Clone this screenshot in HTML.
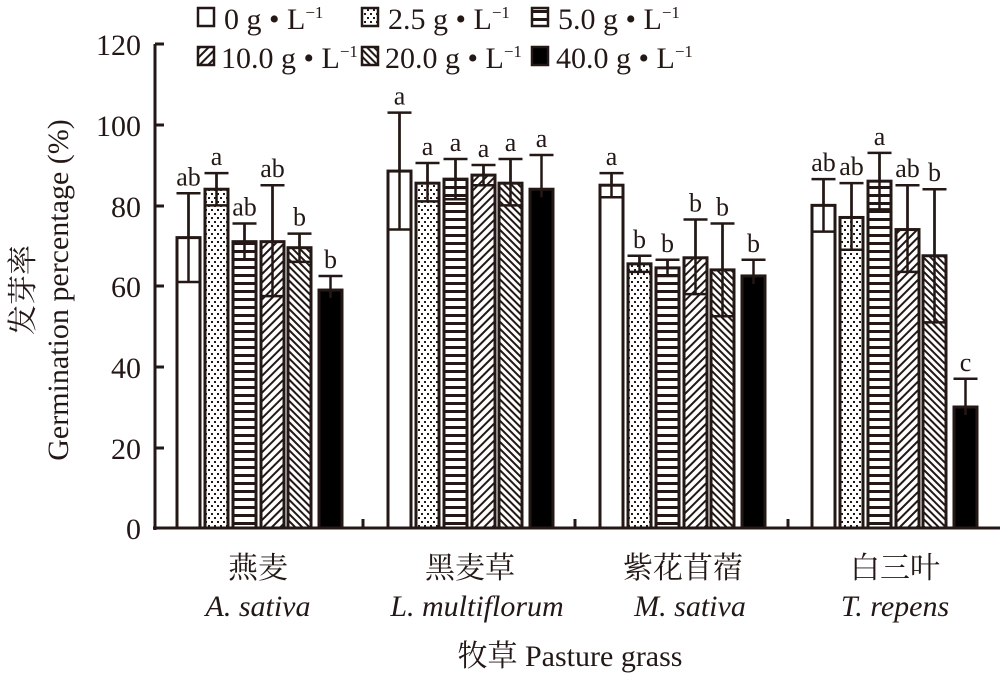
<!DOCTYPE html>
<html><head><meta charset="utf-8"><style>
body{margin:0;background:#fff}
svg{display:block;font-family:"Liberation Serif","Noto Serif CJK SC",serif}
</style></head><body>
<svg width="1000" height="673" viewBox="0 0 1000 673" xmlns="http://www.w3.org/2000/svg">
<defs>
<pattern id="dots" width="6" height="8" patternUnits="userSpaceOnUse"><rect width="6" height="8" fill="#fff"/><rect x="1" y="1" width="2" height="2" fill="#231815"/><rect x="4" y="5" width="2" height="2" fill="#231815"/></pattern>
<pattern id="hor" width="8" height="8" patternUnits="userSpaceOnUse"><rect width="8" height="8" fill="#fff"/><rect y="2" width="8" height="3" fill="#231815"/></pattern>
<pattern id="fwd" width="6" height="6" patternUnits="userSpaceOnUse" patternTransform="rotate(45)"><rect width="6" height="6" fill="#fff"/><rect width="2" height="6" fill="#231815"/></pattern>
<pattern id="bwd" width="5" height="5" patternUnits="userSpaceOnUse" patternTransform="rotate(-45)"><rect width="5" height="5" fill="#fff"/><rect width="2" height="5" fill="#231815"/></pattern>
</defs>
<g id="chart" stroke="#231815" stroke-width="3"></g>
<g fill="#231815" font-size="30" text-anchor="end">
<text x="141" y="55">120</text><text x="141" y="136">100</text><text x="141" y="217">80</text><text x="141" y="297">60</text><text x="141" y="378">40</text><text x="141" y="459">20</text><text x="141" y="539">0</text>
</g>
<g fill="#231815" font-size="30" text-anchor="middle">
<text transform="translate(33,290) rotate(-90)">发芽率</text>
<text transform="translate(68,290) rotate(-90)">Germination percentage (%)</text>
<text x="258" y="578">燕麦</text><text x="258" y="616" font-style="italic">A. sativa</text>
<text x="470" y="578">黑麦草</text><text x="477" y="616" font-style="italic">L. multiflorum</text>
<text x="683" y="578">紫花苜蓿</text><text x="690" y="616" font-style="italic">M. sativa</text>
<text x="895" y="578">白三叶</text><text x="895" y="616" font-style="italic">T. repens</text>
<text x="570" y="666">牧草 Pasture grass</text>
</g>
<g font-size="30" fill="#231815">
<rect x="198" y="8" width="16" height="18" fill="#fff" stroke="#231815" stroke-width="2.5"/><text x="224" y="29">0 g • L<tspan dy="-11" font-size="17">−1</tspan></text>
<rect x="362" y="8" width="16" height="18" fill="url(#dots)" stroke="#231815" stroke-width="2.5"/><text x="388" y="29">2.5 g • L<tspan dy="-11" font-size="17">−1</tspan></text>
<rect x="532" y="8" width="16" height="18" fill="url(#hor)" stroke="#231815" stroke-width="2.5"/><text x="558" y="29">5.0 g • L<tspan dy="-11" font-size="17">−1</tspan></text>
<rect x="198" y="47" width="16" height="18" fill="url(#fwd)" stroke="#231815" stroke-width="2.5"/><text x="221" y="68">10.0 g • L<tspan dy="-11" font-size="17">−1</tspan></text>
<rect x="362" y="47" width="16" height="18" fill="url(#bwd)" stroke="#231815" stroke-width="2.5"/><text x="385" y="68">20.0 g • L<tspan dy="-11" font-size="17">−1</tspan></text>
<rect x="532" y="47" width="16" height="18" fill="#000" stroke="#231815" stroke-width="2.5"/><text x="556" y="68">40.0 g • L<tspan dy="-11" font-size="17">−1</tspan></text>
</g>
<script>
var g=document.getElementById('chart'),NS="http://www.w3.org/2000/svg";
function el(t,a){var e=document.createElementNS(NS,t);for(var k in a)e.setAttribute(k,a[k]);g.appendChild(e);return e;}
function Y(v){return 528-v*4.033;}
var fills=['#fff','url(#dots)','url(#hor)','url(#fwd)','url(#bwd)','#000'];
var offs=[0,28,56,84,111,142];
var starts=[177,388,600,812];
var data=[
[[72,83,61,'ab'],[84,88,80,'a'],[71,75.5,66.5,'ab'],[71,85,57.5,'ab'],[69.5,73,66,'b'],[59,62.5,55.5,'b']],
[[88.5,103,74,'a'],[85.5,90.5,81,'a'],[86.5,91.5,81.5,'a'],[87.5,90,85,'a'],[85.5,91.5,80,'a'],[84,92.5,76,'a']],
[[85,88,82,'a'],[65.5,67.5,63.5,'b'],[64.5,66.5,62.5,'b'],[67,76.5,58,'b'],[64,75.5,52.5,'b'],[62.5,66.5,58.5,'b']],
[[80,86.5,73.5,'ab'],[77,85.5,69,'ab'],[86,93,79,'a'],[74,85,63.5,'ab'],[67.5,84,51,'b'],[30,37,23,'c']]];
data.forEach(function(gr,gi){gr.forEach(function(d,bi){
 var x=starts[gi]+offs[bi],w=23,c=x+w/2;
 el('rect',{x:x,y:Y(d[0]),width:w,height:528-Y(d[0]),fill:fills[bi]});
 if(bi<5){el('line',{x1:c,x2:c,y1:Y(d[1]),y2:Y(d[2]),'stroke-width':2.5});
 el('line',{x1:c-12,x2:c+12,y1:Y(d[2]),y2:Y(d[2]),'stroke-width':2.5});}
 else{el('line',{x1:c,x2:c,y1:Y(d[0]),y2:Y(d[0])+8,'stroke-width':2.5});}
 el('line',{x1:c,x2:c,y1:Y(d[1]),y2:Y(d[0]),'stroke-width':2.5});
 el('line',{x1:c-12,x2:c+12,y1:Y(d[1]),y2:Y(d[1]),'stroke-width':2.5});
 var t=el('text',{x:c,y:Y(d[1])-8,'text-anchor':'middle','font-size':26,fill:'#231815',stroke:'none'});t.textContent=d[3];
});});
el('line',{x1:155,x2:155,y1:44,y2:530});
el('line',{x1:153,x2:1000,y1:528,y2:528});
[44,125,206,286,367,448].forEach(function(y){el('line',{x1:155,x2:164,y1:y,y2:y});});
[363,575,788].forEach(function(x){el('line',{x1:x,x2:x,y1:528,y2:519});});
</script>
</svg>
</body></html>
